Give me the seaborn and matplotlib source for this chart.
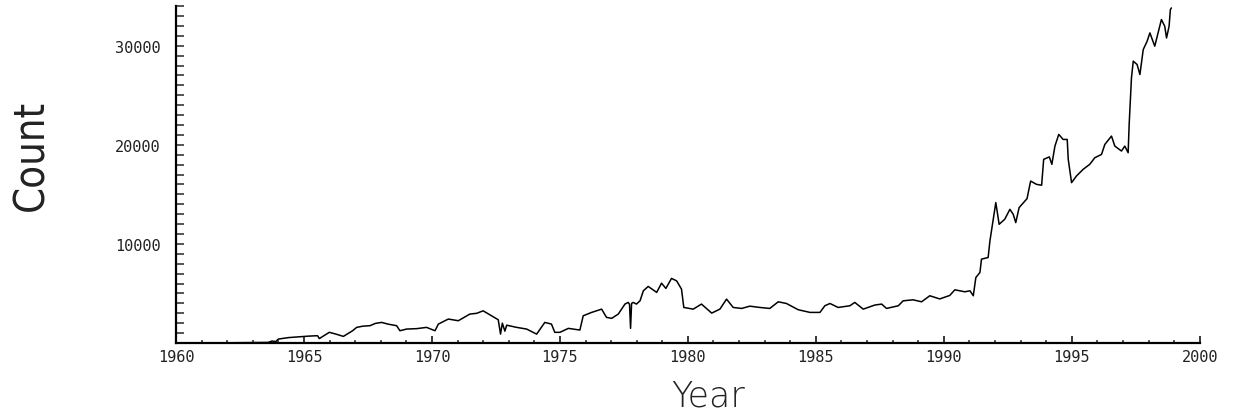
import numpy as np
import pandas as pd
import matplotlib
matplotlib.use('Agg')
import matplotlib.pyplot as plt
import seaborn as sns
from matplotlib import font_manager
from matplotlib.ticker import MultipleLocator, FuncFormatter

# values (year, count)
years = [1960.0, 1961.0, 1962.0, 1963.0, 1963.6, 1963.75, 1963.9, 1964.0, 1964.4, 1964.88,
         1965.2, 1965.53, 1965.6, 1965.99, 1966.25, 1966.54, 1966.9, 1967.06, 1967.3, 1967.58,
         1967.79, 1968.03, 1968.3, 1968.62, 1968.75, 1969.01, 1969.4, 1969.79, 1970.12, 1970.25,
         1970.64, 1971.03, 1971.48, 1971.75, 1972.0, 1972.33, 1972.59, 1972.68, 1972.75, 1972.85,
         1972.92, 1973.31, 1973.7, 1974.09, 1974.41, 1974.67, 1974.8, 1975.0, 1975.33, 1975.78,
         1975.91, 1976.24, 1976.63, 1976.82, 1977.02, 1977.28, 1977.54, 1977.67, 1977.72, 1977.76,
         1977.8, 1977.86, 1977.99, 1978.13, 1978.26, 1978.45, 1978.78, 1978.97, 1979.14, 1979.36,
         1979.56, 1979.75, 1979.84, 1980.21, 1980.53, 1980.93, 1981.25, 1981.51, 1981.77, 1982.1,
         1982.42, 1982.81, 1983.2, 1983.53, 1983.85, 1984.31, 1984.77, 1985.16, 1985.35, 1985.55,
         1985.87, 1986.33, 1986.52, 1986.85, 1987.3, 1987.57, 1987.76, 1988.22, 1988.41, 1988.8,
         1989.13, 1989.45, 1989.84, 1990.23, 1990.43, 1990.82, 1991.02, 1991.15, 1991.25, 1991.41,
         1991.47, 1991.73, 1991.8, 1991.9, 1992.03, 1992.16, 1992.38, 1992.58, 1992.71, 1992.81,
         1992.94, 1993.25, 1993.39, 1993.62, 1993.82, 1993.9, 1994.12, 1994.22, 1994.34, 1994.49,
         1994.66, 1994.82, 1994.86, 1994.99, 1995.18, 1995.44, 1995.7, 1995.9, 1996.16, 1996.29,
         1996.55, 1996.68, 1996.94, 1997.07, 1997.2, 1997.24, 1997.33, 1997.4, 1997.55, 1997.66,
         1997.79, 1997.94, 1998.05, 1998.24, 1998.37, 1998.5, 1998.63, 1998.7, 1998.8, 1998.85,
         1998.89]
counts = [0, 0, 20, 40, 60, 200, 150, 400, 550, 640,
          700, 740, 450, 1080, 900, 670, 1240, 1580, 1700, 1750,
          1980, 2080, 1900, 1750, 1240, 1410, 1450, 1580, 1240, 1910,
          2420, 2250, 2920, 3000, 3250, 2750, 2350, 900, 2000, 1200,
          1800, 1580, 1410, 900, 2080, 1910, 1080, 1080, 1480, 1310,
          2750, 3090, 3420, 2590, 2490, 2920, 3930, 4100, 3900, 1480,
          4000, 4100, 3930, 4260, 5270, 5710, 5110, 6040, 5510, 6520,
          6270, 5440, 3590, 3420, 3930, 3020, 3420, 4430, 3590, 3490,
          3720, 3590, 3490, 4160, 3990, 3360, 3090, 3090, 3760, 3990,
          3590, 3760, 4100, 3420, 3830, 3930, 3490, 3760, 4260, 4360,
          4160, 4770, 4450, 4800, 5370, 5170, 5270, 4770, 6610, 7120,
          8460, 8630, 10300, 11980, 14170, 11980, 12490, 13490, 12990, 12150,
          13660, 14570, 16340, 16010, 15920, 18530, 18780, 18030, 19870, 21050,
          20540, 20540, 18530, 16180, 16850, 17520, 18030, 18700, 19030, 20040,
          20880, 19870, 19370, 19870, 19200, 22050, 26760, 28440, 28100, 27090,
          29610, 30440, 31290, 29950, 31290, 32640, 31960, 30780, 31960, 33640,
          33810]

df = pd.DataFrame({'Year': years, 'Count': counts})

sns.set_style('ticks')

names = {f.name for f in font_manager.fontManager.ttflist}
narrow = 'Liberation Sans Narrow' if 'Liberation Sans Narrow' in names else 'DejaVu Sans'

fig = plt.figure(figsize=(12.35, 4.14), dpi=100)
ax = fig.add_axes([0.1425, 0.169, 0.829, 0.814])

sns.lineplot(data=df, x='Year', y='Count', color='black', linewidth=1.1,
             estimator=None, ax=ax)

ax.set_xlim(1960, 2000)
ax.set_ylim(0, 34000)
ax.xaxis.set_major_locator(MultipleLocator(5))
ax.xaxis.set_minor_locator(MultipleLocator(1))
ax.yaxis.set_major_locator(MultipleLocator(10000))
ax.yaxis.set_minor_locator(MultipleLocator(1000))
# no label at the origin on the count axis
ax.yaxis.set_major_formatter(FuncFormatter(lambda v, p: '' if v == 0 else '%d' % v))

sns.despine(ax=ax)
for s in ['left', 'bottom']:
    ax.spines[s].set_linewidth(1.6)
    ax.spines[s].set_color('black')

ax.tick_params(axis='x', which='major', direction='in', length=5, width=1.3, pad=4)
ax.tick_params(axis='x', which='minor', direction='in', length=2.5, width=1.1)
ax.tick_params(axis='y', which='major', direction='in', length=6, width=1.1, pad=11)
ax.tick_params(axis='y', which='minor', direction='in', length=6, width=1.1)

for lab in ax.get_xticklabels() + ax.get_yticklabels():
    lab.set_family('DejaVu Sans Mono')
    lab.set_fontsize(11)
    lab.set_color('#222222')

ax.set_xlabel('Year', fontsize=25, family='DejaVu Sans', fontweight='light',
              color='#222222')
ax.set_ylabel('Count', fontsize=30, family=narrow, fontweight='light',
              fontstretch='condensed', color='#222222')
ax.xaxis.set_label_coords(0.52, -0.105)
ax.yaxis.set_label_coords(-0.121, 0.56)

plt.savefig('out.png', dpi=100)
